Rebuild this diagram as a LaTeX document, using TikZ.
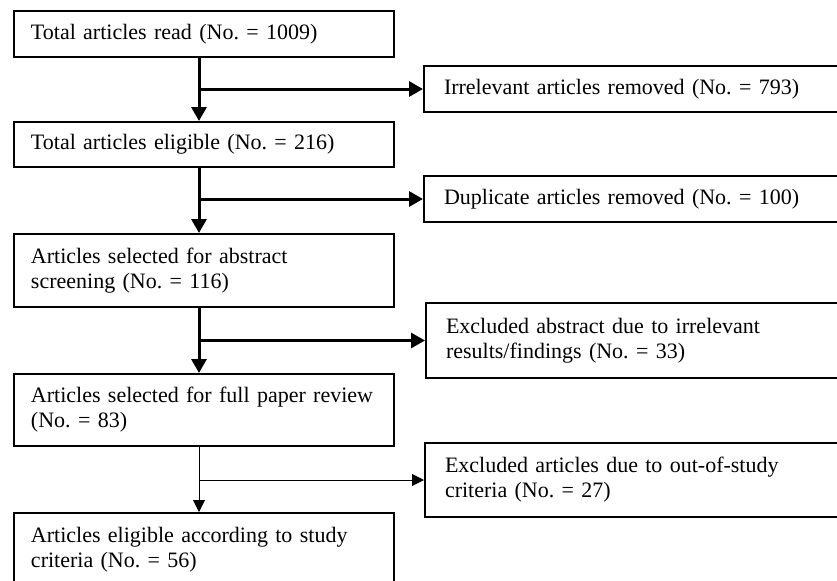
\documentclass[tikz,border=0pt]{standalone}
\usepackage{fontspec}
\setmainfont{Liberation Serif}
\usetikzlibrary{arrows.meta,positioning}
\frenchspacing

\begin{document}
\begin{tikzpicture}[x=0.5pt,y=-0.5pt,
  box/.style={draw=black,line width=1pt,anchor=north west,align=left,
    inner xsep=8.5pt,inner ysep=0pt,font=\fontsize{11}{12.5}\selectfont},
  leftbox/.style={box,text width=173pt,minimum width=190pt},
  rightbox/.style={box,text width=200pt,minimum width=220pt},
  flow/.style={line width=1.5pt,-{Triangle[length=7pt,width=7.5pt]}},
  thinflow/.style={line width=0.5pt,-{Triangle[length=6pt,width=6pt]}}]
\useasboundingbox (0,0) rectangle (837,580);
\clip (0,0) rectangle (837,580);
% main column
\node[leftbox,minimum height=23pt] (read) at (13,10) {Total articles read (No. = 1009)};
\node[leftbox,minimum height=22.5pt] (elig) at (13,121) {Total articles eligible (No. = 216)};
\node[leftbox,minimum height=36.5pt] (absc) at (13,233) {Articles selected for abstract\\screening (No. = 116)};
\node[leftbox,minimum height=36pt] (full) at (13,373) {Articles selected for full paper review\\(No. = 83)};
\node[leftbox,minimum height=37pt] (crit) at (13,512) {Articles eligible according to study\\criteria (No. = 56)};
% removed / excluded
\node[rightbox,minimum height=23pt] (irr) at (423,65) {Irrelevant articles removed (No. = 793)};
\node[rightbox,minimum height=23pt] (dup) at (423,175) {Duplicate articles removed (No. = 100)};
\node[rightbox,minimum height=37.5pt] (exabs) at (425,302) {Excluded abstract due to irrelevant\\results/findings (No. = 33)};
\node[rightbox,minimum height=37pt] (exout) at (424,442) {Excluded articles due to out-of-study\\criteria (No. = 27)};
% connectors
\coordinate (s1) at ([xshift=-2.5pt]read.south);
\coordinate (s2) at ([xshift=-2.5pt]elig.south);
\coordinate (s3) at ([xshift=-2.5pt]absc.south);
\coordinate (s4) at ([xshift=-2.5pt]full.south);
\draw[flow] (s1) -- (s1 |- elig.north);
\draw[flow] (s1 |- irr.west) -- (irr.west);
\draw[flow] (s2) -- (s2 |- absc.north);
\draw[flow] (s2 |- dup.west) -- (dup.west);
\draw[flow] (s3) -- (s3 |- full.north);
\draw[flow] (s3 |- exabs.west) -- (exabs.west);
\draw[thinflow] (s4) -- (s4 |- crit.north);
\draw[thinflow] (s4 |- exout.west) -- (exout.west);
\end{tikzpicture}
\end{document}
